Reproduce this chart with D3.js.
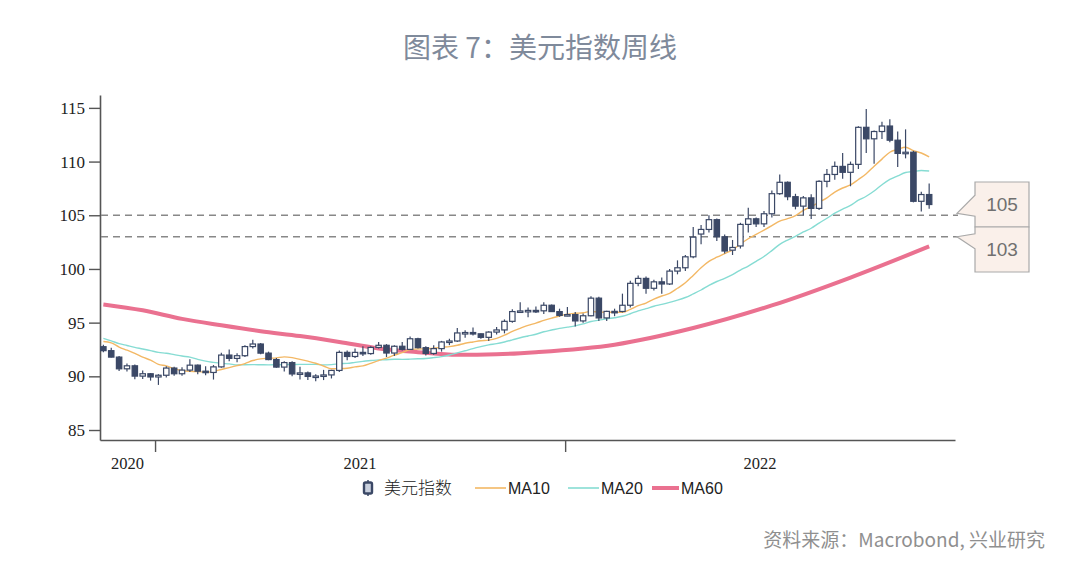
<!DOCTYPE html>
<html>
<head>
<meta charset="utf-8">
<script src="https://cdn.jsdelivr.net/npm/d3@7"></script>
<style>
  body { margin: 0; background: #fff; }
  svg { display: block; }
</style>
</head>
<body>
<svg id="chart" width="1080" height="586"></svg>
<script>
// weekly candles, one per Monday from 2020-11-16 to 2022-11-21
var weekDates = d3.timeMonday.range(new Date(2020, 10, 16), new Date(2022, 10, 22));

var openVals = [92.76,92.39,91.79,90.70,90.98,90.02,90.24,89.94,90.10,90.77,
  90.24,90.58,91.04,90.48,90.36,90.88,91.98,91.67,91.92,92.77,
  93.01,92.16,91.56,90.86,91.28,90.22,90.32,89.99,90.03,90.13,
  90.55,92.23,91.85,92.23,92.12,92.69,92.89,92.17,92.80,92.51,
  93.50,92.67,92.13,92.58,93.20,93.29,94.04,94.08,93.96,93.63,
  94.12,94.32,95.12,96.03,96.09,96.14,96.10,96.62,96.03,95.67,
  95.75,95.16,95.64,97.28,95.44,96.05,96.04,96.62,98.66,99.12,
  98.20,98.80,98.60,99.80,100.11,101.13,103.25,103.68,104.59,103.00,
  101.75,102.14,104.15,104.67,104.20,105.14,107.01,108.07,106.73,105.85,
  106.62,105.64,108.16,108.80,109.55,109.00,109.74,113.19,112.12,112.80,
  113.31,111.99,110.76,110.87,106.30,106.93];
var highVals = [92.95,92.65,91.90,91.20,91.10,90.55,90.30,90.20,90.95,90.90,
  90.85,91.60,91.10,90.95,91.05,92.20,92.50,92.15,92.90,93.40,
  93.10,92.30,91.70,91.40,91.40,90.90,90.45,90.20,90.60,90.60,
  92.40,92.40,92.60,92.80,92.80,93.20,93.00,92.90,93.20,93.70,
  93.60,92.80,92.90,93.30,93.50,94.50,94.30,94.55,94.00,94.20,
  94.60,95.30,96.25,96.90,96.40,96.50,96.90,96.70,96.30,96.45,
  96.00,95.85,97.45,97.40,96.10,96.30,97.70,98.90,99.40,99.30,
  99.00,99.20,100.00,100.80,101.30,103.90,104.10,105.00,104.70,103.20,
  102.70,104.30,105.70,104.80,105.40,107.30,108.80,108.15,107.00,106.80,
  106.95,108.25,109.30,110.00,110.80,110.00,113.30,114.90,112.90,113.70,
  113.95,112.80,113.00,111.00,107.20,107.95];
var lowVals = [92.25,91.75,90.50,90.45,89.73,89.75,89.60,89.20,89.90,90.05,
  90.05,90.40,90.20,90.10,89.70,90.80,91.40,91.30,91.80,92.60,
  92.05,91.50,90.80,90.45,90.00,89.70,89.65,89.55,89.65,89.80,
  90.40,91.50,91.70,91.90,92.00,92.60,91.80,91.90,92.40,92.45,
  92.60,91.95,92.00,92.30,92.90,93.20,93.60,93.80,93.50,93.30,
  93.90,94.00,95.00,95.90,95.50,95.90,95.80,96.00,95.55,95.60,
  94.65,95.00,95.60,95.15,95.15,95.60,95.95,96.40,98.40,97.70,
  98.00,97.70,98.50,99.50,99.80,101.00,102.30,103.40,102.60,101.45,
  101.30,101.90,103.40,103.90,103.90,104.80,106.90,106.40,105.55,105.00,
  104.65,105.50,107.60,108.30,108.40,107.70,109.30,110.80,109.80,112.10,
  111.80,109.50,110.30,106.20,105.35,105.60];
var closeVals = [92.39,91.79,90.70,90.98,90.02,90.24,89.94,90.10,90.77,90.24,
  90.58,91.04,90.48,90.36,90.88,91.98,91.67,91.92,92.77,93.01,
  92.16,91.56,90.86,91.28,90.22,90.32,89.99,90.03,90.13,90.55,
  92.23,91.85,92.23,92.12,92.69,92.89,92.17,92.80,92.51,93.50,
  92.67,92.13,92.58,93.20,93.29,94.04,94.08,93.96,93.63,94.12,
  94.32,95.12,96.03,96.09,96.14,96.10,96.62,96.03,95.67,95.75,
  95.16,95.64,97.28,95.44,96.05,96.04,96.62,98.66,99.12,98.20,
  98.80,98.60,99.80,100.11,101.13,102.96,103.68,104.59,103.00,101.67,
  102.00,104.15,104.67,104.20,105.14,107.01,108.07,106.73,105.85,106.62,
  105.64,108.16,108.80,109.55,109.00,109.74,113.19,112.12,112.80,113.31,
  111.99,110.76,110.87,106.30,106.93,106.00];

var ma10Vals = [93.24,93.12,92.73,92.44,92.14,91.79,91.51,91.12,90.97,90.72,
  90.54,90.46,90.44,90.38,90.46,90.64,90.81,90.99,91.19,91.47,
  91.63,91.68,91.72,91.81,91.74,91.58,91.41,91.22,90.96,90.71,
  90.72,90.75,90.88,90.97,91.21,91.47,91.69,91.97,92.20,92.50,
  92.54,92.57,92.61,92.71,92.77,92.89,93.08,93.20,93.31,93.37,
  93.54,93.83,94.18,94.47,94.75,94.96,95.21,95.42,95.62,95.79,
  95.87,95.92,96.05,95.98,95.97,95.97,95.97,96.23,96.58,96.82,
  97.19,97.48,97.73,98.20,98.71,99.40,100.11,100.70,101.09,101.43,
  101.77,102.32,102.81,103.22,103.62,104.03,104.46,104.68,104.96,105.46,
  105.81,106.21,106.62,107.16,107.54,107.82,108.33,108.87,109.56,110.23,
  110.87,111.13,111.33,111.01,110.80,110.43];
var ma20Vals = [93.54,93.30,93.04,92.87,92.70,92.55,92.39,92.23,92.15,92.02,
  91.89,91.79,91.58,91.41,91.30,91.21,91.16,91.05,91.08,91.09,
  91.08,91.07,91.08,91.09,91.10,91.11,91.11,91.11,91.07,91.09,
  91.17,91.21,91.30,91.39,91.48,91.52,91.55,91.59,91.58,91.60,
  91.63,91.66,91.74,91.84,91.99,92.18,92.38,92.58,92.76,92.93,
  93.04,93.20,93.39,93.59,93.76,93.92,94.15,94.31,94.47,94.58,
  94.70,94.88,95.11,95.23,95.36,95.46,95.59,95.83,96.10,96.30,
  96.53,96.70,96.89,97.09,97.34,97.68,98.04,98.47,98.83,99.13,
  99.48,99.90,100.27,100.71,101.16,101.71,102.29,102.69,103.03,103.45,
  103.79,104.27,104.72,105.19,105.58,105.92,106.40,106.77,107.26,107.84,
  108.34,108.67,108.98,109.08,109.17,109.12];
// MA60 read at every fifth/tenth week
var ma60Weeks = [0, 5, 10, 15, 20, 25, 30, 35, 40, 45, 50, 55, 65, 75, 85, 95, 105];
var ma60Vals = [96.7, 96.15, 95.35, 94.75, 94.2, 93.75, 93.2, 92.6, 92.25, 92.0, 92.05, 92.25, 92.95, 94.5, 96.6, 99.2, 102.1];

var refLevels = [105, 103];
var yTicks = [85, 90, 95, 100, 105, 110, 115];
var yearLabels = ['2020', '2021', '2022'];
var legendItems = ['美元指数', 'MA10', 'MA20', 'MA60'];

var candleColor = '#3b4866';
var ma10Color = '#f3b865';
var ma20Color = '#86dcd3';
var ma60Color = '#ea7190';

var svg = d3.select('#chart');

// title
svg.append('text')
  .attr('x', 540).attr('y', 58)
  .attr('text-anchor', 'middle')
  .style('font-family', '"Noto Sans CJK SC", "Noto Sans", sans-serif')
  .style('font-size', '28px')
  .style('font-weight', 400)
  .style('fill', '#7f8a9b')
  .text('图表 7：美元指数周线');

// scales
var xScale = d3.scaleTime()
  .domain([new Date(2020, 10, 13), new Date(2022, 11, 14)])
  .range([100, 955]);
var yScale = d3.scaleLinear()
  .domain([84.07, 116.2])
  .range([440, 95]);

var chart = svg.append('g');

// axes
var yAxis = d3.axisLeft(yScale).tickValues(yTicks).tickSize(11).tickSizeOuter(0).tickPadding(4);
var yAxisG = chart.append('g')
  .attr('transform', 'translate(100,0)')
  .call(yAxis);
yAxisG.select('.domain').attr('stroke', '#555').attr('stroke-width', 1.6);
yAxisG.selectAll('.tick line').attr('stroke', '#555').attr('stroke-width', 1.4);
yAxisG.selectAll('.tick text')
  .style('font-family', '"Liberation Serif", "DejaVu Serif", serif')
  .style('font-size', '17px')
  .style('fill', '#222');

var yearStarts = [new Date(2021, 0, 1), new Date(2022, 0, 1)];
var xAxis = d3.axisBottom(xScale).tickValues(yearStarts).tickSize(12).tickSizeOuter(0).tickFormat('');
var xAxisG = chart.append('g')
  .attr('transform', 'translate(0,440)')
  .call(xAxis);
xAxisG.select('.domain').attr('stroke', '#555').attr('stroke-width', 1.6);
xAxisG.selectAll('.tick line').attr('stroke', '#555').attr('stroke-width', 1.4);

// year labels centred in the visible part of each year
var xDom = xScale.domain();
chart.selectAll('.year-label')
  .data(yearLabels)
  .join('text')
  .attr('class', 'year-label')
  .attr('x', function(d) {
    var a = new Date(+d, 0, 1), b = new Date(+d + 1, 0, 1);
    if (a < xDom[0]) a = xDom[0];
    if (b > xDom[1]) b = xDom[1];
    return (xScale(a) + xScale(b)) / 2;
  })
  .attr('y', 469)
  .attr('text-anchor', 'middle')
  .style('font-family', '"Liberation Serif", "DejaVu Serif", serif')
  .style('font-size', '16.5px')
  .style('fill', '#222')
  .text(function(d) { return d; });

// reference lines
chart.selectAll('.ref-line')
  .data(refLevels)
  .join('line')
  .attr('class', 'ref-line')
  .attr('x1', 101).attr('x2', 958)
  .attr('y1', function(d) { return yScale(d); })
  .attr('y2', function(d) { return yScale(d); })
  .attr('stroke', '#888')
  .attr('stroke-width', 1.6)
  .attr('stroke-dasharray', '7,5');

// moving averages
var lineIdx = d3.line()
  .x(function(d) { return xScale(weekDates[d[0]]); })
  .y(function(d) { return yScale(d[1]); })
  .curve(d3.curveMonotoneX);

chart.append('path')
  .attr('d', lineIdx(ma60Weeks.map(function(w, i) { return [w, ma60Vals[i]]; })))
  .attr('fill', 'none').attr('stroke', ma60Color).attr('stroke-width', 4);
chart.append('path')
  .attr('d', lineIdx(ma20Vals.map(function(v, i) { return [i, v]; })))
  .attr('fill', 'none').attr('stroke', ma20Color).attr('stroke-width', 1.4);
chart.append('path')
  .attr('d', lineIdx(ma10Vals.map(function(v, i) { return [i, v]; })))
  .attr('fill', 'none').attr('stroke', ma10Color).attr('stroke-width', 1.4);

// candles
var candles = weekDates.map(function(d, i) {
  return {date: d, o: openVals[i], h: highVals[i], l: lowVals[i], c: closeVals[i]};
});
var bodyW = 5.4;
var cg = chart.selectAll('.candle')
  .data(candles)
  .join('g')
  .attr('class', 'candle');
cg.append('line')
  .attr('x1', function(d) { return xScale(d.date); })
  .attr('x2', function(d) { return xScale(d.date); })
  .attr('y1', function(d) { return yScale(d.h); })
  .attr('y2', function(d) { return yScale(d.l); })
  .attr('stroke', candleColor).attr('stroke-width', 1.2);
cg.append('rect')
  .attr('x', function(d) { return xScale(d.date) - bodyW / 2; })
  .attr('y', function(d) { return yScale(Math.max(d.o, d.c)); })
  .attr('width', bodyW)
  .attr('height', function(d) { return Math.max(1.5, Math.abs(yScale(d.o) - yScale(d.c))); })
  .attr('fill', function(d) { return d.c >= d.o ? '#fff' : candleColor; })
  .attr('stroke', candleColor).attr('stroke-width', 1.2);

// callouts at the right end of reference lines
var boxX = 975, boxW = 54, boxTop = 182, boxMid = 227, boxBot = 272, tipX = 957;
var calloutPaths = [
  'M' + boxX + ',' + boxTop + 'H' + (boxX + boxW) + 'V' + boxMid + 'H' + boxX +
    'V' + (yScale(refLevels[0]) + 1) + 'L' + tipX + ',' + (yScale(refLevels[0]) - 2) +
    'L' + boxX + ',' + (yScale(refLevels[0]) - 20) + 'Z',
  'M' + boxX + ',' + boxMid + 'H' + (boxX + boxW) + 'V' + boxBot + 'H' + boxX +
    'V' + (yScale(refLevels[1]) + 12) + 'L' + tipX + ',' + yScale(refLevels[1]) +
    'L' + boxX + ',' + (yScale(refLevels[1]) - 3) + 'Z'
];
chart.selectAll('.callout')
  .data(refLevels)
  .join('path')
  .attr('class', 'callout')
  .attr('d', function(d, i) { return calloutPaths[i]; })
  .attr('fill', '#faf0ea')
  .attr('stroke', '#a9a9a9')
  .attr('stroke-width', 1.2);
chart.selectAll('.callout-text')
  .data(refLevels)
  .join('text')
  .attr('class', 'callout-text')
  .attr('x', boxX + boxW / 2)
  .attr('y', function(d, i) { return i === 0 ? 211 : 256; })
  .attr('text-anchor', 'middle')
  .style('font-family', '"Liberation Sans", Arial, sans-serif')
  .style('font-size', '19px')
  .style('fill', '#707070')
  .text(function(d) { return d; });

// legend
var legend = svg.append('g').attr('transform', 'translate(0,488)');
var lg0 = legend.append('g').attr('transform', 'translate(368,0)');
lg0.append('line').attr('x1', 0).attr('x2', 0).attr('y1', -8).attr('y2', 8)
  .attr('stroke', candleColor).attr('stroke-width', 1.5);
lg0.append('rect').attr('x', -4).attr('y', -5.5).attr('width', 8).attr('height', 11)
  .attr('rx', 1.5).attr('fill', '#c9d0de').attr('stroke', candleColor).attr('stroke-width', 2.4);
legend.append('text').attr('x', 384).attr('y', 6)
  .style('font-family', '"Noto Sans CJK SC", sans-serif')
  .style('font-size', '17px').style('font-weight', 300).style('fill', '#222')
  .text(legendItems[0]);

var legendLines = [
  {x: 475, w: 31, color: ma10Color, sw: 1.6, tx: 508, label: legendItems[1]},
  {x: 568, w: 31, color: ma20Color, sw: 1.6, tx: 601, label: legendItems[2]},
  {x: 652, w: 27, color: ma60Color, sw: 4, tx: 681, label: legendItems[3]}
];
legend.selectAll('.lg-line')
  .data(legendLines)
  .join('line')
  .attr('class', 'lg-line')
  .attr('x1', function(d) { return d.x; })
  .attr('x2', function(d) { return d.x + d.w; })
  .attr('y1', 0).attr('y2', 0)
  .attr('stroke', function(d) { return d.color; })
  .attr('stroke-width', function(d) { return d.sw; });
legend.selectAll('.lg-text')
  .data(legendLines)
  .join('text')
  .attr('class', 'lg-text')
  .attr('x', function(d) { return d.tx; })
  .attr('y', 6)
  .style('font-family', '"Liberation Sans Narrow", "Liberation Sans", Arial, sans-serif')
  .style('font-size', '16px')
  .style('fill', '#222')
  .text(function(d) { return d.label; });

// source
svg.append('text')
  .attr('x', 1045).attr('y', 547)
  .attr('text-anchor', 'end')
  .style('font-family', '"Noto Sans CJK SC", "Noto Sans", sans-serif')
  .style('font-size', '19px')
  .style('fill', '#8f8f8f')
  .text('资料来源：Macrobond, 兴业研究');
</script>
</body>
</html>
